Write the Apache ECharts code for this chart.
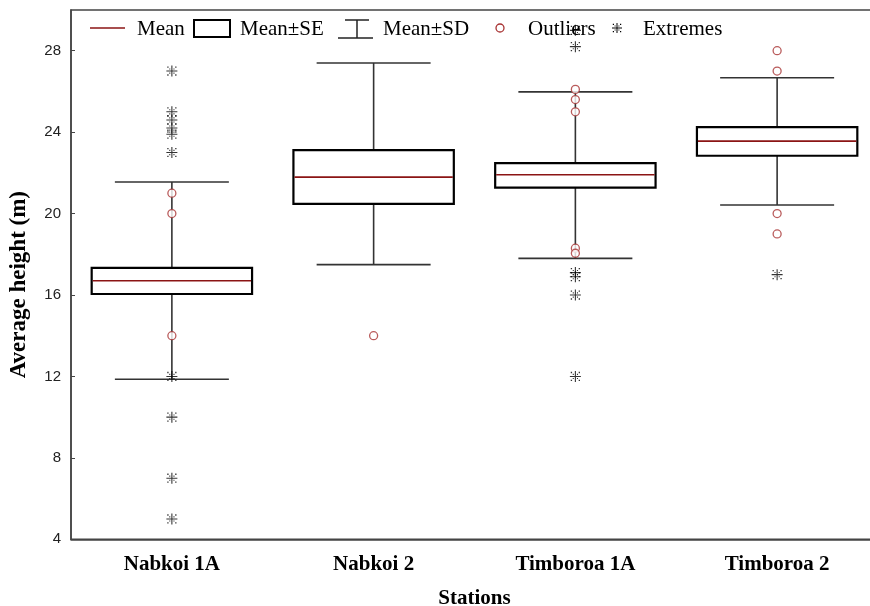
<!DOCTYPE html>
<html><head><meta charset="utf-8">
<script src="https://cdn.jsdelivr.net/npm/echarts@6/dist/echarts.min.js"></script>
<style>html,body{margin:0;padding:0;background:#fff}#c{width:870px;height:606px}</style>
</head><body><div id="c"></div>
<script>
// ---- data ----
const categories = ['Nabkoi 1A', 'Nabkoi 2', 'Timboroa 1A', 'Timboroa 2'];
const means  = [16.70, 21.79, 21.91, 23.56];
const seLow  = [16.05, 20.48, 21.27, 22.84];
const seHigh = [17.33, 23.12, 22.48, 24.25];
const sdLow  = [11.86, 17.49, 17.80, 20.42];
const sdHigh = [21.55, 27.40, 25.98, 26.67];
const outliers = [
  [21, 20, 14],
  [14],
  [26.1, 25.6, 25.0, 18.3, 18.05],
  [28, 27, 20, 19]
];
const extremes = [
  [27, 25, 24.6, 24.2, 23.9, 23, 12, 10, 7, 5],
  [],
  [29, 28.2, 17.1, 16.9, 16, 12],
  [17]
];
const yMin = 4, yMax = 30, yStep = 4;
const legendLabels = ['Mean', 'Mean\u00B1SE', 'Mean\u00B1SD', 'Outliers', 'Extremes'];

// ---- styles ----
const MEAN_COLOR = '#8B1414';
const OUT_COLOR = '#A83232';
const SERIF = '"Liberation Serif", "Times New Roman", serif';
const SANS = '"Liberation Sans", Arial, sans-serif';
// extreme marker glyph: [x, y, w, h] pieces in a 10x10 box
const EXT_PIECES = [[4.5,0,1,10],[0,4.5,10,1],[0.8,0.8,1.2,1.2],[2.6,2.6,1,1],[8,0.8,1.2,1.2],[6.4,2.6,1,1],
  [0.8,8,1.2,1.2],[2.6,6.4,1,1],[8,8,1.2,1.2],[6.4,6.4,1,1]];
const EXT_PATH = EXT_PIECES.map(p => `M${p[0]},${p[1]}h${p[2]}v${p[3]}h${-p[2]}Z`).join(' ');

const boxData = categories.map((c, i) => [i, sdLow[i], seLow[i], means[i], seHigh[i], sdHigh[i]]);
const outData = [];
outliers.forEach((arr, i) => arr.forEach(v => outData.push([i, v])));
const extData = [];
extremes.forEach((arr, i) => arr.forEach(v => extData.push([i, v])));

function renderBox(params, api) {
  const i = api.value(0);
  const bw = api.size([1, 0])[0];
  const pSDl = api.coord([i, api.value(1)]);
  const pSEl = api.coord([i, api.value(2)]);
  const pM = api.coord([i, api.value(3)]);
  const pSEh = api.coord([i, api.value(4)]);
  const pSDh = api.coord([i, api.value(5)]);
  const x = pM[0];
  const boxW = bw * 0.795, capW = bw * 0.565;
  const wl = { stroke: '#333', lineWidth: 1.6 };
  return {
    type: 'group',
    children: [
      { type: 'line', shape: { x1: x, y1: pSEh[1], x2: x, y2: pSDh[1] }, style: wl },
      { type: 'line', shape: { x1: x, y1: pSEl[1], x2: x, y2: pSDl[1] }, style: wl },
      { type: 'line', shape: { x1: x - capW / 2, y1: pSDh[1], x2: x + capW / 2, y2: pSDh[1] }, style: wl },
      { type: 'line', shape: { x1: x - capW / 2, y1: pSDl[1], x2: x + capW / 2, y2: pSDl[1] }, style: wl },
      { type: 'rect', shape: { x: x - boxW / 2, y: pSEh[1], width: boxW, height: pSEl[1] - pSEh[1] },
        style: { fill: '#fff', stroke: '#000', lineWidth: 2.2 } },
      { type: 'line', shape: { x1: x - boxW / 2 + 1, y1: pM[1], x2: x + boxW / 2 - 1, y2: pM[1] },
        style: { stroke: MEAN_COLOR, lineWidth: 1.6 } }
    ]
  };
}

const chart = echarts.init(document.getElementById('c'));
const lt = (t, x) => ({ type: 'text', style: { x: x, y: 29, text: t, font: '21px ' + SERIF, fill: '#000', verticalAlign: 'middle' } });
const extLegend = {
  type: 'group', x: 612, y: 23,
  children: EXT_PIECES.map(p => ({ type: 'rect', shape: { x: p[0], y: p[1], width: p[2], height: p[3] }, style: { fill: '#000' } }))
};
chart.setOption({
  animation: false,
  backgroundColor: '#fff',
  grid: { left: 71, top: 10, right: -8, bottom: 66.7, outerBoundsMode: 'none', containLabel: false,
    show: true, borderColor: '#444', borderWidth: 1.5, backgroundColor: 'transparent' },
  xAxis: {
    type: 'category', data: categories, boundaryGap: true,
    axisLine: { lineStyle: { color: '#444', width: 1.5 } },
    axisTick: { inside: true, alignWithLabel: true, length: 3, lineStyle: { color: '#444' } },
    axisLabel: { fontFamily: SERIF, fontWeight: 'bold', fontSize: 21, color: '#000', margin: 15 },
    splitLine: { show: false },
    name: 'Stations', nameLocation: 'middle', nameGap: 49,
    nameTextStyle: { fontFamily: SERIF, fontWeight: 'bold', fontSize: 21, color: '#000' }
  },
  yAxis: {
    type: 'value', min: yMin, max: yMax, interval: yStep,
    axisLine: { show: true, lineStyle: { color: '#444', width: 1.5 } },
    axisTick: { show: true, inside: true, length: 4, lineStyle: { color: '#444' } },
    axisLabel: { fontFamily: SANS, fontSize: 15, color: '#222', margin: 10, showMaxLabel: false },
    splitLine: { show: false },
    name: 'Average height (m)', nameLocation: 'middle', nameGap: 40,
    nameTextStyle: { fontFamily: SERIF, fontWeight: 'bold', fontSize: 23, color: '#000', padding: [0, 20, 0, 0] }
  },
  series: [
    { type: 'custom', name: 'Mean', data: boxData, renderItem: renderBox, encode: { x: 0, y: [1, 2, 3, 4, 5] }, z: 2 },
    { type: 'scatter', name: 'Outliers', data: outData, symbol: 'circle', symbolSize: 8,
      itemStyle: { color: '#fff', borderColor: OUT_COLOR, borderWidth: 1.3 }, z: 3 },
    { type: 'scatter', name: 'Extremes', data: extData, symbol: 'path://' + EXT_PATH, symbolSize: 11,
      itemStyle: { color: '#000' }, z: 3 }
  ],
  graphic: [
    { type: 'line', shape: { x1: 90, y1: 28, x2: 125, y2: 28 }, style: { stroke: MEAN_COLOR, lineWidth: 1.6 } },
    lt(legendLabels[0], 137),
    { type: 'rect', shape: { x: 194, y: 20, width: 36, height: 17 }, style: { fill: '#fff', stroke: '#000', lineWidth: 2 } },
    lt(legendLabels[1], 240),
    { type: 'line', shape: { x1: 345, y1: 20, x2: 369, y2: 20 }, style: { stroke: '#222', lineWidth: 1.5 } },
    { type: 'line', shape: { x1: 357, y1: 20, x2: 357, y2: 38 }, style: { stroke: '#222', lineWidth: 1.5 } },
    { type: 'line', shape: { x1: 338, y1: 38, x2: 373, y2: 38 }, style: { stroke: '#222', lineWidth: 1.5 } },
    lt(legendLabels[2], 383),
    { type: 'circle', shape: { cx: 500, cy: 28, r: 4 }, style: { fill: '#fff', stroke: OUT_COLOR, lineWidth: 1.3 } },
    lt(legendLabels[3], 528),
    extLegend,
    lt(legendLabels[4], 643)
  ]
});
</script></body></html>
